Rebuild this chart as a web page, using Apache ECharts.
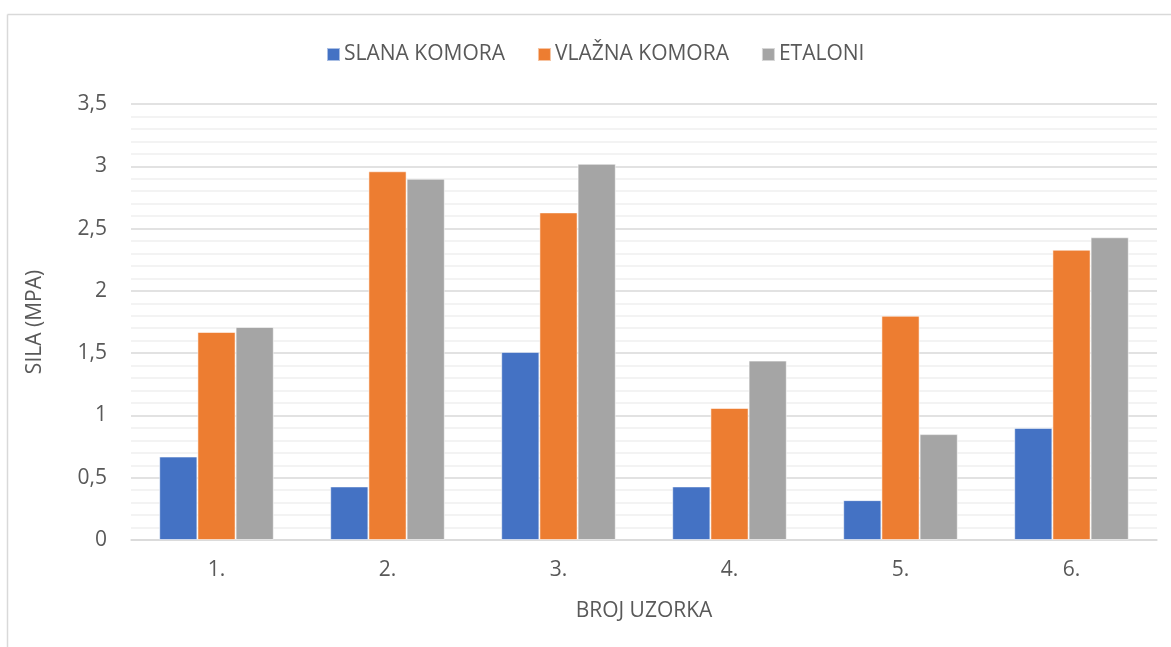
<!DOCTYPE html>
<html>
<head>
<meta charset="utf-8">
<script src="https://cdn.jsdelivr.net/npm/echarts@6/dist/echarts.min.js"></script>
<style>
  html, body { margin: 0; padding: 0; background: #ffffff; }
  #chart { width: 1171px; height: 647px; }
</style>
</head>
<body>
<div id="chart"></div>
<script>
// Sample numbers on the category axis
const categories = ['1.', '2.', '3.', '4.', '5.', '6.'];

// Strength (MPa) per storage condition
const seriesNames = ['SLANA KOMORA', 'VLAŽNA KOMORA', 'ETALONI'];
const slanaKomora = [0.67, 0.43, 1.51, 0.43, 0.32, 0.90];
const vlaznaKomora = [1.67, 2.96, 2.63, 1.06, 1.80, 2.33];
const etaloni = [1.71, 2.90, 3.02, 1.44, 0.85, 2.43];

const colors = ['#4472C4', '#ED7D31', '#A5A5A5'];
const FONT = '"Open Sans", "Liberation Sans", sans-serif';
const TEXT = '#595959';
const FS = 21;

const chart = echarts.init(document.getElementById('chart'), null, { renderer: 'canvas' });

function bar(name, data, color) {
  return {
    name: name,
    type: 'bar',
    data: data,
    barGap: '0%',
    barCategoryGap: '33%',
    itemStyle: { color: color, borderColor: 'rgba(255,255,255,0.55)', borderWidth: 1 },
    emphasis: { disabled: true }
  };
}

chart.setOption({
  animation: false,
  color: colors,
  textStyle: { fontFamily: FONT },
  grid: { left: 131, right: 14, top: 104, bottom: 107, containLabel: false },
  legend: {
    top: 39,
    left: 321,
    itemWidth: 13,
    itemHeight: 13,
    itemGap: 32,
    icon: 'rect',
    textStyle: { fontFamily: FONT, fontSize: FS, color: TEXT, padding: [0, 0, 0, -1] },
    data: seriesNames
  },
  xAxis: {
    type: 'category',
    data: categories,
    name: 'BROJ UZORKA',
    nameLocation: 'middle',
    nameGap: 61,
    nameTextStyle: { fontFamily: FONT, fontSize: FS, color: TEXT },
    axisLine: { show: true, lineStyle: { color: '#d9d9d9', width: 1.5 } },
    axisTick: { show: false },
    axisLabel: { fontFamily: FONT, fontSize: FS, color: TEXT, margin: 20 }
  },
  yAxis: {
    type: 'value',
    min: 0,
    max: 3.5,
    interval: 0.5,
    name: 'SILA (MPA)',
    nameLocation: 'middle',
    nameGap: 85,
    nameRotate: 90,
    nameTextStyle: { fontFamily: FONT, fontSize: FS, color: TEXT },
    axisLine: { show: false },
    axisTick: { show: false },
    axisLabel: {
      fontFamily: FONT, fontSize: FS, color: TEXT, margin: 24,
      formatter: v => String(v).replace('.', ',')
    },
    splitLine: { show: true, lineStyle: { color: '#d9d9d9', width: 1.5 } },
    minorTick: { show: false, splitNumber: 5 },
    minorSplitLine: { show: true, lineStyle: { color: '#f0f0f0', width: 1.5 } }
  },
  graphic: [
    { type: 'line', shape: { x1: 7.5, y1: 14.5, x2: 1171, y2: 14.5 }, style: { stroke: '#d9d9d9', lineWidth: 1.5 }, silent: true },
    { type: 'line', shape: { x1: 7.5, y1: 14.5, x2: 7.5, y2: 647 }, style: { stroke: '#d9d9d9', lineWidth: 1.5 }, silent: true }
  ],
  series: [
    bar(seriesNames[0], slanaKomora, colors[0]),
    bar(seriesNames[1], vlaznaKomora, colors[1]),
    bar(seriesNames[2], etaloni, colors[2])
  ]
});
</script>
</body>
</html>
